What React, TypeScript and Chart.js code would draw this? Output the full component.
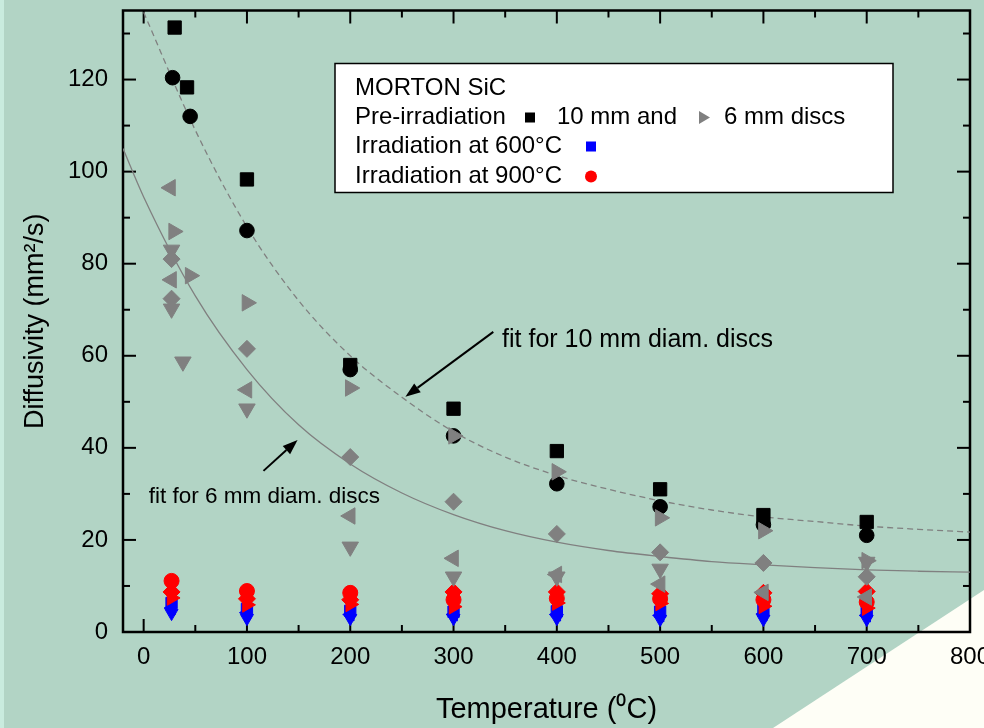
import React, { useEffect, useRef } from "react";
import { Chart, registerables } from "chart.js";
Chart.register(...registerables);

const FONT = "'Liberation Sans', Arial, Helvetica, sans-serif";

// axis ticks
const xTicks = [0, 100, 200, 300, 400, 500, 600, 700, 800];
const xMinorTicks = [50, 150, 250, 350, 450, 550, 650, 750];
const yTicks = [0, 20, 40, 60, 80, 100, 120];
const yMinorTicks = [10, 30, 50, 70, 90, 110, 130];

// Pre-irradiation 10 mm discs (black)
const sq10X = [30, 42, 100, 200, 300, 400, 500, 600, 700];
const sq10Y = [131.3, 118.3, 98.3, 58, 48.5, 39.3, 31, 25.4, 23.9];
const circ10X = [28, 45, 100, 200, 300, 400, 500, 600, 700];
const circ10Y = [120.4, 112, 87.2, 57, 42.6, 32.2, 27.2, 23.3, 21];

// Pre-irradiation 6 mm discs (gray)
const rightX = [29, 45, 100, 200, 300, 400, 500, 600, 700];
const rightY = [87, 77.4, 71.5, 53, 42.6, 34.8, 24.8, 22, 15.5];
const leftX = [26, 27, 100, 200, 300, 400, 500, 600, 700];
const leftY = [96.5, 76.5, 52.6, 25.2, 16, 12.5, 10.4, 8.6, 7.6];
const diamX = [27, 27, 100, 200, 300, 400, 500, 600, 700];
const diamY = [81, 72.4, 61.5, 38, 28.3, 21.3, 17.3, 15, 12];
const downX = [27, 27, 38, 100, 200, 300, 400, 500, 700];
const downY = [83, 70.2, 58.7, 48.5, 18.5, 12, 12, 13.7, 15.2];

// Irradiated samples
const irrX = [27, 100, 200, 300, 400, 500, 600, 700];
const redCircY = [11.1, 8.9, 8.5, 7.0, 7.3, 7.2, 7.0, 6.5];
const redDiamY = [8.7, 7.2, 7.0, 8.7, 8.7, 8.3, 8.5, 8.8];
const redTriY = [7.4, 5.9, 6.0, 5.5, 6.3, 6.2, 5.6, 5.2];
const blueSqY = [6.3, 5.0, 4.6, 4.4, 4.5, 4.4, 4.8, 4.5];
const blueLeftY = [5.2, 4.2, 3.8, 3.8, 3.8, 3.6, 3.9, 3.6];
const blueDownY = [4.1, 3.0, 3.0, 3.0, 3.0, 2.8, 2.8, 2.8];

// Fit curves
const fit10X = [0, 50, 100, 150, 200, 250, 300, 350, 400, 450, 500, 550, 600, 650, 700, 750, 800];
const fit10Y = [134.6, 109, 88, 72, 60, 51, 43.5, 38, 34, 31, 28.5, 26.5, 25, 24, 23, 22.3, 21.7];
const fit6X = [-20, 0, 50, 100, 150, 200, 250, 300, 350, 400, 450, 500, 550, 600, 650, 700, 750, 800];
const fit6Y = [105, 94.5, 73, 57, 45, 36.5, 30.2, 25.5, 22, 19.5, 17.7, 16.4, 15.3, 14.6, 14, 13.5, 13.2, 13];

// Annotations (data coordinates)
const ann10Text = "fit for 10 mm diam. discs";
const ann10Pos = [347, 63.3];
const ann10Arrow = [338.5, 65.2, 253.4, 51.1];
const ann6Text = "fit for 6 mm diam. discs";
const ann6Pos = [5, 29.3];
const ann6Arrow = [116, 35, 149, 41.7];

// Legend texts
const legTitle = "MORTON SiC";
const legPre = ["Pre-irradiation", "10 mm and", "6 mm discs"];
const leg600 = "Irradiation at 600°C";
const leg900 = "Irradiation at 900°C";

const zip = (xs: number[], ys: number[]) => ys.map((y, i) => ({ x: xs[i], y }));

const GRAY = "#808080";

const bgPlugin = {
  id: "bg",
  beforeDraw(chart: any) {
    const { ctx, width, height } = chart;
    ctx.save();
    ctx.fillStyle = "#b2d4c5";
    ctx.fillRect(0, 0, width, height);
    ctx.fillStyle = "#c9ebde";
    ctx.fillRect(0, 0, 4, height);
    ctx.fillStyle = "#fefef6";
    ctx.beginPath();
    ctx.moveTo(width, 590);
    ctx.lineTo(773, height);
    ctx.lineTo(width, height);
    ctx.closePath();
    ctx.fill();
    ctx.restore();
  },
};

const framePlugin = {
  id: "frame",
  beforeDatasetsDraw(chart: any) {
    const { ctx, chartArea, scales } = chart;
    const { left, right, top, bottom } = chartArea;
    const xs = scales.x, ys = scales.y;
    ctx.save();
    ctx.strokeStyle = "#000";
    ctx.lineWidth = 2;
    const tick = (x1: number, y1: number, x2: number, y2: number) => {
      ctx.beginPath();
      ctx.moveTo(x1, y1);
      ctx.lineTo(x2, y2);
      ctx.stroke();
    };
    const MAJ = 13, MIN = 7;
    xTicks.forEach((v) => {
      const p = xs.getPixelForValue(v);
      tick(p, bottom, p, bottom - MAJ);
      tick(p, top, p, top + MAJ);
    });
    xMinorTicks.forEach((v) => {
      const p = xs.getPixelForValue(v);
      tick(p, bottom, p, bottom - MIN);
      tick(p, top, p, top + MIN);
    });
    yTicks.forEach((v) => {
      const p = ys.getPixelForValue(v);
      tick(left, p, left + MAJ, p);
      tick(right, p, right - MAJ, p);
    });
    yMinorTicks.forEach((v) => {
      const p = ys.getPixelForValue(v);
      tick(left, p, left + MIN, p);
      tick(right, p, right - MIN, p);
    });
    ctx.lineWidth = 2.5;
    ctx.strokeRect(left, top, right - left, bottom - top);
    ctx.restore();
  },
};

function arrow(ctx: any, x1: number, y1: number, x2: number, y2: number) {
  const ang = Math.atan2(y2 - y1, x2 - x1);
  const L = 15, W = 5.5;
  const bx = x2 - Math.cos(ang) * L, by = y2 - Math.sin(ang) * L;
  ctx.beginPath();
  ctx.moveTo(x1, y1);
  ctx.lineTo(bx, by);
  ctx.lineWidth = 2;
  ctx.strokeStyle = "#000";
  ctx.stroke();
  ctx.beginPath();
  ctx.moveTo(x2, y2);
  ctx.lineTo(bx - Math.sin(ang) * W, by + Math.cos(ang) * W);
  ctx.lineTo(bx + Math.sin(ang) * W, by - Math.cos(ang) * W);
  ctx.closePath();
  ctx.fillStyle = "#000";
  ctx.fill();
}

const overlayPlugin = {
  id: "overlay",
  afterDraw(chart: any) {
    const { ctx, scales, chartArea } = chart;
    const xs = scales.x, ys = scales.y;
    const px = (v: number) => xs.getPixelForValue(v);
    const py = (v: number) => ys.getPixelForValue(v);
    ctx.save();
    // annotations
    ctx.fillStyle = "#000";
    ctx.textBaseline = "middle";
    ctx.textAlign = "left";
    ctx.font = `25px ${FONT}`;
    ctx.fillText(ann10Text, px(ann10Pos[0]), py(ann10Pos[1]));
    ctx.font = `22.5px ${FONT}`;
    ctx.fillText(ann6Text, px(ann6Pos[0]), py(ann6Pos[1]));
    arrow(ctx, px(ann10Arrow[0]), py(ann10Arrow[1]), px(ann10Arrow[2]), py(ann10Arrow[3]));
    arrow(ctx, px(ann6Arrow[0]), py(ann6Arrow[1]), px(ann6Arrow[2]), py(ann6Arrow[3]));

    // legend box
    const bx = chartArea.left + 212, by = chartArea.top + 53;
    const bw = 558, bh = 129;
    ctx.fillStyle = "#fff";
    ctx.fillRect(bx, by, bw, bh);
    ctx.lineWidth = 1.5;
    ctx.strokeStyle = "#000";
    ctx.strokeRect(bx, by, bw, bh);
    ctx.fillStyle = "#000";
    ctx.font = `24px ${FONT}`;
    const tx = bx + 20;
    const r1 = by + 25, r2 = by + 54, r3 = by + 83, r4 = by + 113;
    ctx.fillText(legTitle, tx, r1);
    ctx.fillText(legPre[0], tx, r2);
    ctx.fillText(legPre[1], bx + 222, r2);
    ctx.fillText(legPre[2], bx + 389, r2);
    ctx.fillText(leg600, tx, r3);
    ctx.fillText(leg900, tx, r4);
    // markers
    ctx.fillStyle = "#000";
    ctx.fillRect(bx + 190, r2 - 5, 10, 10);
    ctx.fillStyle = GRAY;
    ctx.beginPath();
    ctx.moveTo(bx + 375, r2);
    ctx.lineTo(bx + 364, r2 - 6.5);
    ctx.lineTo(bx + 364, r2 + 6.5);
    ctx.closePath();
    ctx.fill();
    ctx.fillStyle = "#0000ff";
    ctx.fillRect(bx + 251, r3 - 5, 10, 10);
    ctx.fillStyle = "#ff0000";
    ctx.beginPath();
    ctx.arc(bx + 256, r4, 6, 0, Math.PI * 2);
    ctx.fill();
    ctx.restore();
  },
};

function pts(label: string, xs: number[], ys: number[], color: string, style: string, radius: number, rotation: number, order: number) {
  return {
    type: "scatter" as const,
    label,
    data: zip(xs, ys),
    backgroundColor: color,
    borderColor: color,
    borderWidth: 1,
    pointStyle: style,
    pointRadius: radius,
    pointRotation: rotation,
    order,
  };
}

export default function App() {
  const ref = useRef<HTMLCanvasElement>(null);
  useEffect(() => {
    document.body.style.margin = "0";
    if (!ref.current) return;
    const chart = new Chart(ref.current, {
      type: "scatter",
      data: {
        datasets: [
          {
            type: "line" as const,
            label: "fit 10 mm",
            data: zip(fit10X, fit10Y),
            borderColor: GRAY,
            borderWidth: 1.3,
            borderDash: [6, 4],
            pointRadius: 0,
            fill: false,
            cubicInterpolationMode: "monotone",
            order: 20,
          },
          {
            type: "line" as const,
            label: "fit 6 mm",
            data: zip(fit6X, fit6Y),
            borderColor: GRAY,
            borderWidth: 1.3,
            pointRadius: 0,
            fill: false,
            cubicInterpolationMode: "monotone",
            order: 21,
          },
          pts("600 down", irrX, blueDownY, "#0000ff", "triangle", 7.5, 180, 15),
          pts("600 left", irrX, blueLeftY, "#0000ff", "triangle", 7.5, 270, 14),
          pts("600 square", irrX, blueSqY, "#0000ff", "rect", 8, 0, 13),
          pts("900 tri", irrX, redTriY, "#ff0000", "triangle", 8.5, 90, 12),
          pts("900 diamond", irrX, redDiamY, "#ff0000", "rectRot", 8.5, 0, 11),
          pts("900 circle", irrX, redCircY, "#ff0000", "circle", 7.5, 0, 10),
          pts("10 mm square", sq10X, sq10Y, "#000000", "rect", 9.4, 0, 9),
          pts("10 mm circle", circ10X, circ10Y, "#000000", "circle", 7.3, 0, 8),
          pts("6 mm down", downX, downY, GRAY, "triangle", 9.5, 180, 4),
          pts("6 mm diamond", diamX, diamY, GRAY, "rectRot", 8.5, 0, 3),
          pts("6 mm left", leftX, leftY, GRAY, "triangle", 9.5, 270, 2),
          pts("6 mm right", rightX, rightY, GRAY, "triangle", 9.5, 90, 1),
        ] as any,
      },
      options: {
        responsive: false,
        animation: false,
        layout: { padding: { left: 0, right: 14, top: 10, bottom: 0 } },
        plugins: { legend: { display: false }, tooltip: { enabled: false } },
        scales: {
          x: {
            type: "linear",
            min: -20,
            max: 800,
            grid: { display: false, drawTicks: false },
            border: { display: false },
            afterBuildTicks: (s: any) => {
              s.ticks = xTicks.map((v) => ({ value: v }));
            },
            ticks: {
              font: { family: FONT, size: 24 },
              color: "#000",
              padding: 11,
              maxRotation: 0,
              autoSkip: false,
            },
            title: {
              display: true,
              text: "Temperature (⁰C)",
              font: { family: FONT, size: 29 },
              color: "#000",
              padding: { top: 0, bottom: 1 },
            },
            afterFit: (s: any) => {
              s.height = 96;
              s.paddingLeft = 0;
              s.paddingRight = 0;
            },
          },
          y: {
            type: "linear",
            min: 0,
            max: 135,
            grid: { display: false, drawTicks: false },
            border: { display: false },
            afterBuildTicks: (s: any) => {
              s.ticks = yTicks.map((v) => ({ value: v }));
            },
            ticks: {
              font: { family: FONT, size: 24 },
              color: "#000",
              padding: 15,
              autoSkip: false,
            },
            title: {
              display: true,
              text: "Diffusivity (mm²/s)",
              font: { family: FONT, size: 27 },
              color: "#000",
              padding: { top: 19, bottom: 0 },
            },
            afterFit: (s: any) => {
              s.width = 123;
              s.paddingTop = 0;
              s.paddingBottom = 0;
            },
          },
        },
      } as any,
      plugins: [bgPlugin, framePlugin, overlayPlugin],
    });
    return () => chart.destroy();
  }, []);
  return <canvas ref={ref} width={984} height={728} style={{ display: "block" }} />;
}
